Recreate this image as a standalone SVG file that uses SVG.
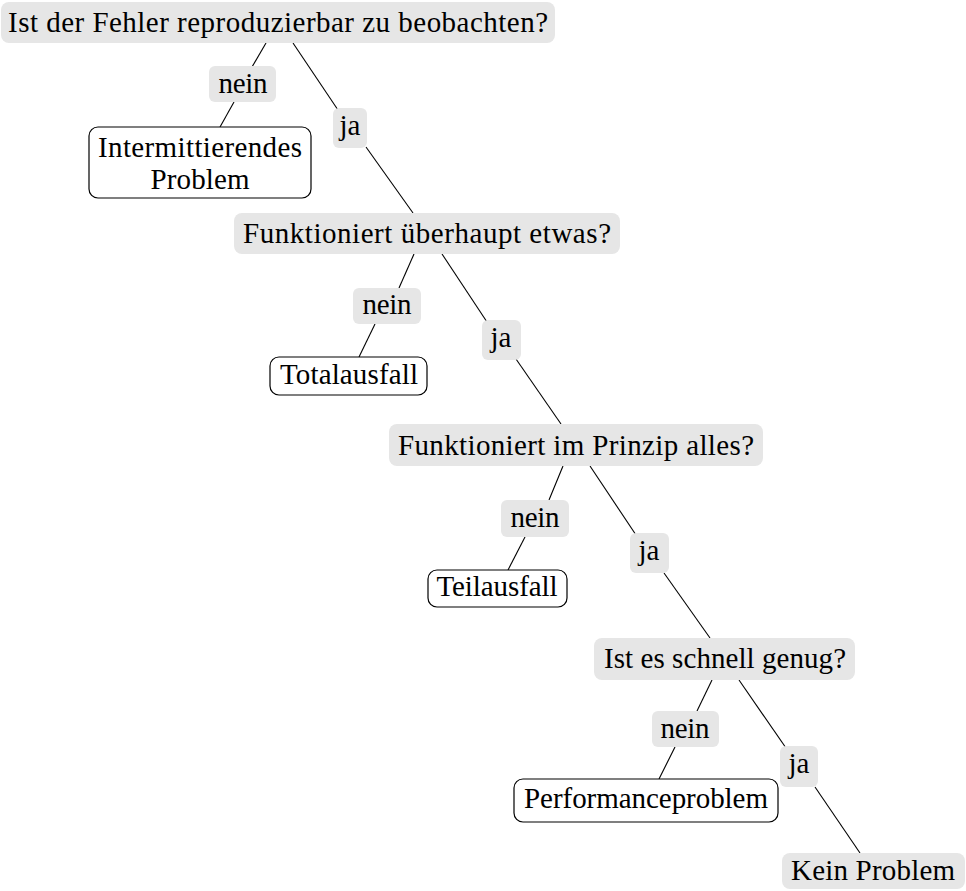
<svg xmlns="http://www.w3.org/2000/svg" width="966" height="891" viewBox="0 0 966 891">
<style>
.q{fill:#e6e6e6;stroke:none}
.lab{fill:#e6e6e6;stroke:none}
.leaf{fill:#fff;stroke:#000;stroke-width:1.2}
#edges line{stroke:#000;stroke-width:1.1}
</style>
<rect width="966" height="891" fill="#fff"/>
<g id="edges">
<line x1="266" y1="43" x2="252" y2="67"/><line x1="234" y1="102" x2="220" y2="127"/>
<line x1="293" y1="43" x2="338" y2="110"/><line x1="366" y1="147" x2="413" y2="213"/>
<line x1="414" y1="254" x2="399" y2="288"/><line x1="375" y1="324" x2="359" y2="357"/>
<line x1="442" y1="254" x2="487" y2="322"/><line x1="516" y1="359" x2="561" y2="424"/>
<line x1="563" y1="466" x2="549" y2="500"/><line x1="525" y1="537" x2="508" y2="570"/>
<line x1="590" y1="466" x2="636" y2="535"/><line x1="664" y1="573" x2="710" y2="638"/>
<line x1="712" y1="680" x2="697" y2="711"/><line x1="675" y1="747" x2="659" y2="779"/>
<line x1="739" y1="680" x2="786" y2="748"/><line x1="815" y1="787" x2="860" y2="853"/>
</g>
<g id="q1"><rect class="q" x="1" y="2" width="554" height="41" rx="8"/><text x="278" y="32" font-family="Liberation Serif" font-size="29" text-anchor="middle" textLength="540">Ist der Fehler reproduzierbar zu beobachten?</text></g>
<g id="l1"><rect class="lab" x="209" y="66" width="67" height="36" rx="6"/><text x="243" y="93" font-family="Liberation Serif" font-size="29" text-anchor="middle" textLength="49">nein</text></g>
<g id="r1"><rect class="leaf" x="89" y="127" width="222" height="71" rx="9"/><text x="200" y="157" font-family="Liberation Serif" font-size="29" text-anchor="middle" textLength="204">Intermittierendes</text><text x="200" y="189" font-family="Liberation Serif" font-size="29" text-anchor="middle" textLength="99">Problem</text></g>
<g id="j1"><rect class="lab" x="333" y="108" width="34" height="40" rx="6"/><text x="350" y="135" font-family="Liberation Serif" font-size="29" text-anchor="middle">ja</text></g>
<g id="q2"><rect class="q" x="234" y="213" width="386" height="41" rx="8"/><text x="427" y="243" font-family="Liberation Serif" font-size="29" text-anchor="middle" textLength="368">Funktioniert überhaupt etwas?</text></g>
<g id="l2"><rect class="lab" x="353" y="288" width="68" height="36" rx="6"/><text x="387" y="314" font-family="Liberation Serif" font-size="29" text-anchor="middle" textLength="49">nein</text></g>
<g id="r2"><rect class="leaf" x="270" y="357" width="157" height="38" rx="9"/><text x="349" y="384" font-family="Liberation Serif" font-size="29" text-anchor="middle" textLength="138">Totalausfall</text></g>
<g id="j2"><rect class="lab" x="482" y="320" width="39" height="40" rx="6"/><text x="501" y="347" font-family="Liberation Serif" font-size="29" text-anchor="middle">ja</text></g>
<g id="q3"><rect class="q" x="389" y="424" width="374" height="42" rx="8"/><text x="576" y="455" font-family="Liberation Serif" font-size="29" text-anchor="middle" textLength="356">Funktioniert im Prinzip alles?</text></g>
<g id="l3"><rect class="lab" x="501" y="500" width="68" height="37" rx="6"/><text x="535" y="527" font-family="Liberation Serif" font-size="29" text-anchor="middle" textLength="49">nein</text></g>
<g id="r3"><rect class="leaf" x="428" y="570" width="139" height="37" rx="9"/><text x="497" y="596" font-family="Liberation Serif" font-size="29" text-anchor="middle" textLength="121">Teilausfall</text></g>
<g id="j3"><rect class="lab" x="630" y="533" width="39" height="40" rx="6"/><text x="649" y="560" font-family="Liberation Serif" font-size="29" text-anchor="middle">ja</text></g>
<g id="q4"><rect class="q" x="594" y="638" width="261" height="42" rx="8"/><text x="725" y="668" font-family="Liberation Serif" font-size="29" text-anchor="middle" textLength="242">Ist es schnell genug?</text></g>
<g id="l4"><rect class="lab" x="652" y="711" width="67" height="36" rx="6"/><text x="685" y="738" font-family="Liberation Serif" font-size="29" text-anchor="middle" textLength="49">nein</text></g>
<g id="r4"><rect class="leaf" x="514" y="779" width="264" height="43" rx="9"/><text x="646" y="808" font-family="Liberation Serif" font-size="29" text-anchor="middle" textLength="244">Performanceproblem</text></g>
<g id="j4"><rect class="lab" x="780" y="746" width="38" height="41" rx="6"/><text x="799" y="773" font-family="Liberation Serif" font-size="29" text-anchor="middle">ja</text></g>
<g id="r5"><rect class="q" x="782" y="853" width="183" height="36" rx="8"/><text x="873" y="880" font-family="Liberation Serif" font-size="29" text-anchor="middle" textLength="164">Kein Problem</text></g>
</svg>
